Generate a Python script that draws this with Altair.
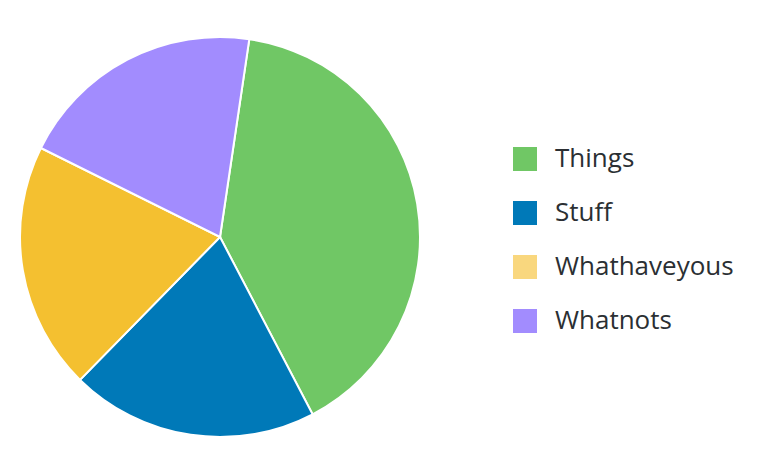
import altair as alt
import pandas as pd
import math

categories = ["Things", "Stuff", "Whathaveyous", "Whatnots"]
values = [40, 20, 20, 20]
slice_colors = ["#70c765", "#0079b8", "#f4c030", "#a28cfe"]
legend_colors = ["#70c765", "#0079b8", "#f9d77e", "#a28cfe"]

df = pd.DataFrame({"category": categories, "value": values, "idx": list(range(len(categories)))})

start = 0.147
theta = alt.Theta("value:Q", stack=True, scale=alt.Scale(range=[start, start + 2 * math.pi]))

pie = alt.Chart(df).mark_arc(outerRadius=200, stroke="white", strokeWidth=2).encode(
    theta=theta,
    order=alt.Order("idx:Q"),
    color=alt.Color("category:N", scale=alt.Scale(domain=categories, range=slice_colors), legend=None),
)

legend_layer = alt.Chart(df).mark_arc(outerRadius=0, innerRadius=0).encode(
    theta=theta,
    order=alt.Order("idx:Q"),
    fill=alt.Fill(
        "category:N",
        scale=alt.Scale(domain=categories, range=legend_colors),
        sort=categories,
        legend=alt.Legend(
            title=None,
            orient="none",
            legendX=492,
            legendY=109,
            symbolType="square",
            symbolSize=576,
            symbolStrokeWidth=0,
            labelFontSize=26,
            labelFont="Open Sans",
            labelColor="#2b2f33",
            labelOffset=17,
            rowPadding=28,
            labelLimit=300,
        ),
    ),
)

chart = alt.layer(pie, legend_layer).resolve_scale(color="independent", fill="independent").properties(
    width=400, height=400, padding={"left": 8, "top": 25, "right": 0, "bottom": 0}
).configure_view(stroke=None)

chart.save("out.html", embed_options={"renderer": "svg", "actions": False})
